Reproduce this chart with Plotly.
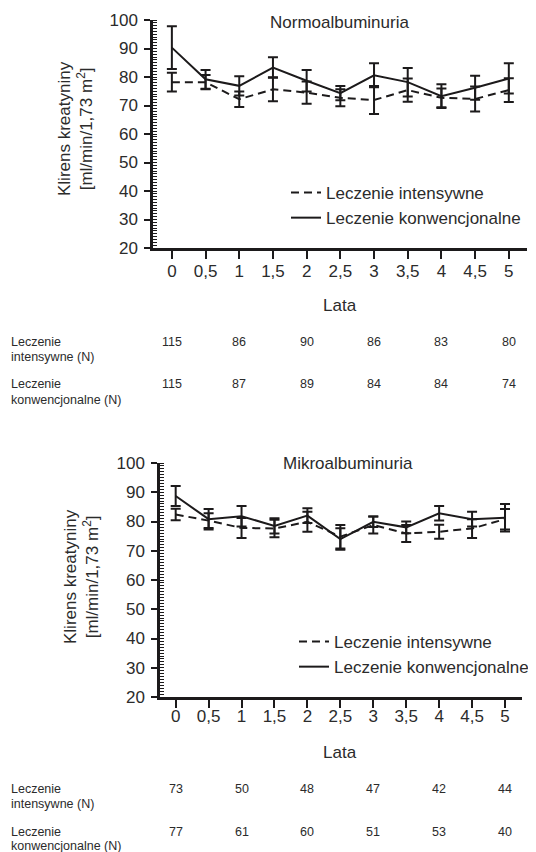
import plotly.graph_objects as go

# ---------------- data ----------------
years = [0, 0.5, 1, 1.5, 2, 2.5, 3, 3.5, 4, 4.5, 5]
year_labels = ["0", "0,5", "1", "1,5", "2", "2,5", "3", "3,5", "4", "4,5", "5"]

# Normoalbuminuria
normo_int = [78.2, 78.2, 72.2, 75.7, 74.5, 72.7, 71.9, 75.4, 72.7, 72.3, 75.4]
normo_int_err = [3.3, 2.5, 2.7, 4.2, 3.9, 3.0, 4.9, 4.1, 3.3, 4.4, 4.2]
normo_conv = [90.3, 79.2, 76.9, 83.3, 78.7, 74.3, 80.6, 78.2, 73.3, 76.2, 79.5]
normo_conv_err = [7.5, 3.3, 3.4, 3.6, 3.8, 2.5, 4.2, 5.0, 4.2, 4.2, 5.3]

# Mikroalbuminuria
mikro_int = [82.4, 80.3, 77.8, 77.6, 79.9, 74.8, 78.8, 75.9, 76.5, 77.6, 80.8]
mikro_int_err = [2.0, 2.5, 3.4, 3.0, 3.4, 4.0, 2.9, 2.9, 2.4, 3.2, 3.5]
mikro_conv = [88.7, 80.8, 81.8, 78.5, 82.0, 74.0, 79.9, 78.0, 82.8, 80.8, 81.3]
mikro_conv_err = [3.4, 3.5, 3.5, 2.6, 2.5, 3.7, 1.8, 2.0, 2.5, 2.5, 4.7]

n_years = [0, 1, 2, 3, 4, 5]
normo_n_int = [115, 86, 90, 86, 83, 80]
normo_n_conv = [115, 87, 89, 84, 84, 74]
mikro_n_int = [73, 50, 48, 47, 42, 44]
mikro_n_conv = [77, 61, 60, 51, 53, 40]

y_ticks = [20, 30, 40, 50, 60, 70, 80, 90, 100]

# ---------------- style ----------------
OFF = 8                      # page body margin of the html page
W, H = 536 - OFF, 852 - OFF  # figure fits the window exactly
FONT = "Liberation Sans, Arial, sans-serif"
TXT = "#2b2b2b"
INK = "#1c1a1b"
BIG = 17
SMALL = 12.5


def px(p):
    """screen x pixel -> paper fraction"""
    return (p - OFF) / W


def py(p):
    """screen y pixel -> paper fraction"""
    return 1 - (p - OFF) / H


fig = go.Figure()


def add_series(xa, ya, vals, errs, name, dash, legend):
    fig.add_trace(go.Scatter(
        x=years, y=vals, mode="lines", name=name,
        line=dict(color=INK, width=2, dash=dash),
        error_y=dict(type="data", array=errs, visible=True,
                     color=INK, thickness=2, width=5),
        xaxis=xa, yaxis=ya, legend=legend,
    ))


add_series("x", "y", normo_int, normo_int_err, "Leczenie intensywne", "8px,5px", "legend")
add_series("x", "y", normo_conv, normo_conv_err, "Leczenie konwencjonalne", "solid", "legend")
add_series("x2", "y2", mikro_int, mikro_int_err, "Leczenie intensywne", "8px,5px", "legend2")
add_series("x2", "y2", mikro_conv, mikro_conv_err, "Leczenie konwencjonalne", "solid", "legend2")

xcommon = dict(
    tickmode="array", tickvals=years, ticktext=year_labels,
    ticks="outside", ticklen=8, tickwidth=2, tickcolor=INK,
    showline=True, linewidth=2.5, linecolor=INK,
    showgrid=False, zeroline=False,
    tickfont=dict(family=FONT, size=BIG, color=TXT),
)
ycommon = dict(
    tickmode="array", tickvals=y_ticks, range=[20, 100],
    ticks="outside", ticklen=6, tickwidth=2, tickcolor=INK,
    showline=True, linewidth=2.5, linecolor=INK,
    showgrid=False, zeroline=False,
    minor=dict(ticks="inside", dtick=1, ticklen=4, tickwidth=1.2, tickcolor=INK),
    tickfont=dict(family=FONT, size=BIG, color=TXT),
    ticklabelstandoff=3,
)

fig.update_layout(
    width=W, height=H,
    margin=dict(l=0, r=0, t=0, b=0, autoexpand=False),
    paper_bgcolor="white", plot_bgcolor="white",
    font=dict(family=FONT, size=BIG, color=TXT),
    xaxis=dict(domain=[px(153), px(527)], range=[-0.28, 5.27], anchor="y",
               ticklabelstandoff=-2, **xcommon),
    yaxis=dict(domain=[py(248), py(20)], anchor="x", **ycommon),
    xaxis2=dict(domain=[px(160), px(522)], range=[-0.238, 5.258], anchor="y2",
                ticklabelstandoff=-6, **xcommon),
    yaxis2=dict(domain=[py(697), py(463)], anchor="x2", **ycommon),
    legend=dict(x=px(286), y=py(175), xanchor="left", yanchor="top",
                bgcolor="rgba(0,0,0,0)", font=dict(family=FONT, size=BIG, color=TXT),
                tracegroupgap=0, itemclick=False),
    legend2=dict(x=px(294), y=py(624), xanchor="left", yanchor="top",
                 bgcolor="rgba(0,0,0,0)", font=dict(family=FONT, size=BIG, color=TXT),
                 tracegroupgap=0, itemclick=False),
    showlegend=True,
)

ann = []


def note(text, x, y, xref="paper", size=BIG, xanchor="center", angle=0):
    ann.append(dict(text=text, x=x, y=y, xref=xref, yref="paper", showarrow=False,
                    xanchor=xanchor, yanchor="middle", textangle=angle,
                    font=dict(family=FONT, size=size, color=TXT)))


# titles
note("Normoalbuminuria", px(339), py(22))
note("Mikroalbuminuria", px(348), py(463))
# y titles
note("Klirens kreatyniny<br>[ml/min/1,73 m<sup>2</sup>]", px(76), py(129), angle=-90)
note("Klirens kreatyniny<br>[ml/min/1,73 m<sup>2</sup>]", px(81), py(577), angle=-90)
# x titles
note("Lata", 2.5, py(306), xref="x")
note("Lata", 2.5, py(752), xref="x2")


def add_table(xref, rows):
    for (label1, label2, ly1, ly2, vals) in rows:
        note(label1, px(9), py(ly1), size=SMALL, xanchor="left")
        note(label2, px(9), py(ly2), size=SMALL, xanchor="left")
        for xv, v in zip(n_years, vals):
            note(str(v), xv, py(ly1), xref=xref, size=SMALL)


add_table("x", [
    ("Leczenie", "intensywne (N)", 342, 357, normo_n_int),
    ("Leczenie", "konwencjonalne (N)", 384, 400, normo_n_conv),
])
add_table("x2", [
    ("Leczenie", "intensywne (N)", 789, 804, mikro_n_int),
    ("Leczenie", "konwencjonalne (N)", 832, 846, mikro_n_conv),
])

fig.update_layout(annotations=ann)
fig.write_html("out.html")
